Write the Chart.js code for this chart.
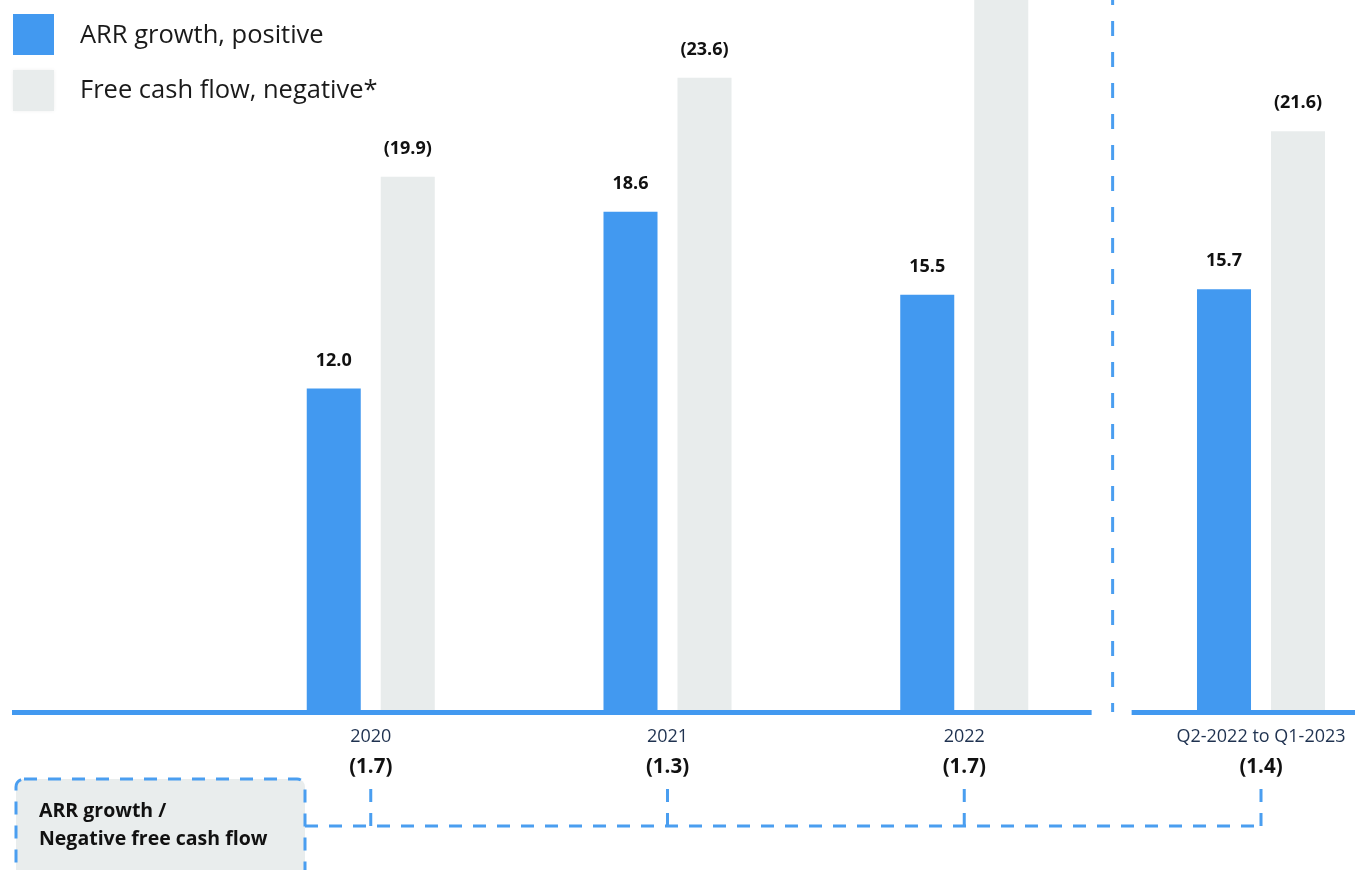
<!DOCTYPE html>
<html>
<head>
<meta charset="utf-8">
<script src="https://cdn.jsdelivr.net/npm/chart.js@4.4.0/dist/chart.umd.min.js"></script>
<style>
  html, body { margin: 0; padding: 0; background: #ffffff; }
  #wrap { width: 1355px; height: 870px; position: relative; }
</style>
</head>
<body>
<div id="wrap"><canvas id="c" width="1355" height="870"></canvas></div>
<script>
// ---- data ----
const categories = ["", "2020", "2021", "2022", "Q2-2022 to Q1-2023"];
const arrGrowth = [null, 12.0, 18.6, 15.5, 15.7];
const freeCashFlowNeg = [null, 19.9, 23.6, 26.9, 21.6];
const ratios = [null, 1.7, 1.3, 1.7, 1.4];
const seriesNames = ["ARR growth, positive", "Free cash flow, negative*"];
const boxLines = ["ARR growth /", "Negative free cash flow"];

const BLUE = '#4299f0';
const GREY = '#e8ecec';
const DASH_BLUE = '#4a9ef0';
const FONT = '"Open Sans", "Noto Sans", sans-serif';

const overlay = {
  id: 'overlay',
  afterDatasetsDraw(chart) {
    const ctx = chart.ctx;
    const x = chart.scales.x;
    const area = chart.chartArea;
    const m0 = chart.getDatasetMeta(0);
    const m1 = chart.getDatasetMeta(1);

    const xa = x.getPixelForValue(3), xb = x.getPixelForValue(4);
    const divX = (xa + xb) / 2;

    ctx.save();
    // baseline
    ctx.strokeStyle = BLUE;
    ctx.lineWidth = 5;
    ctx.beginPath();
    ctx.moveTo(12, area.bottom + 2.5);
    ctx.lineTo(divX - 21, area.bottom + 2.5);
    ctx.moveTo(divX + 19, area.bottom + 2.5);
    ctx.lineTo(1355, area.bottom + 2.5);
    ctx.stroke();

    // vertical divider
    ctx.strokeStyle = DASH_BLUE;
    ctx.lineWidth = 3;
    ctx.setLineDash([15, 16]);
    ctx.lineDashOffset = 10;
    ctx.beginPath();
    ctx.moveTo(divX, 0);
    ctx.lineTo(divX, area.bottom + 2);
    ctx.stroke();
    ctx.setLineDash([]);
    ctx.lineDashOffset = 0;

    // value labels
    ctx.fillStyle = '#111111';
    ctx.font = 'bold 18px ' + FONT;
    ctx.textAlign = 'center';
    ctx.textBaseline = 'middle';
    m0.data.forEach((bar, i) => {
      if (arrGrowth[i] == null) return;
      ctx.fillText(arrGrowth[i].toFixed(1), bar.x, bar.y - 28);
    });
    m1.data.forEach((bar, i) => {
      if (freeCashFlowNeg[i] == null) return;
      ctx.fillText('(' + freeCashFlowNeg[i].toFixed(1) + ')', bar.x, bar.y - 28);
    });

    // legend
    ctx.fillStyle = BLUE;
    ctx.fillRect(13, 14, 41, 41);
    ctx.save();
    ctx.shadowColor = 'rgba(0,0,0,0.06)';
    ctx.shadowBlur = 4;
    ctx.fillStyle = GREY;
    ctx.fillRect(13, 70, 41, 41);
    ctx.restore();
    ctx.fillStyle = '#1a1a1a';
    ctx.font = '25.5px ' + FONT;
    ctx.textAlign = 'left';
    ctx.fillText(seriesNames[0], 80, 36);
    ctx.fillText(seriesNames[1], 80, 91);

    // ratio labels
    ctx.fillStyle = '#111111';
    ctx.font = 'bold 20.5px ' + FONT;
    ctx.textAlign = 'center';
    let lastX = 0;
    ratios.forEach((r, i) => {
      if (r == null) return;
      const px = x.getPixelForValue(i);
      ctx.fillText('(' + r.toFixed(1) + ')', px, 767);
      lastX = px;
    });

    // box
    const bx = 16, by = 779, bw = 289, bh = 110, rad = 8;
    ctx.fillStyle = '#e9eded';
    ctx.beginPath();
    ctx.roundRect(bx, by, bw, bh, rad);
    ctx.fill();
    ctx.strokeStyle = DASH_BLUE;
    ctx.lineWidth = 3;
    ctx.setLineDash([13, 11]);
    ctx.stroke();

    // bracket
    ctx.beginPath();
    ctx.moveTo(bx + bw, 826);
    ctx.lineTo(lastX, 826);
    ctx.stroke();
    ratios.forEach((r, i) => {
      if (r == null) return;
      const px = x.getPixelForValue(i);
      ctx.beginPath();
      ctx.moveTo(px, 826);
      ctx.lineTo(px, 788);
      ctx.stroke();
    });
    ctx.setLineDash([]);

    // box text
    ctx.fillStyle = '#111111';
    ctx.font = 'bold 19.5px ' + FONT;
    ctx.textAlign = 'left';
    ctx.fillText(boxLines[0], 39, 811);
    ctx.fillText(boxLines[1], 39, 839);
    ctx.restore();
  }
};

new Chart(document.getElementById('c'), {
  type: 'bar',
  data: {
    labels: categories,
    datasets: [
      { label: seriesNames[0], data: arrGrowth, backgroundColor: BLUE, clip: false },
      { label: seriesNames[1], data: freeCashFlowNeg, backgroundColor: GREY, clip: false }
    ]
  },
  options: {
    responsive: false,
    animation: false,
    devicePixelRatio: 1,
    categoryPercentage: 0.4987,
    barPercentage: 0.73,
    layout: { padding: { left: 74, right: 94, top: 0, bottom: 0 } },
    plugins: { legend: { display: false }, tooltip: { enabled: false }, title: { display: false } },
    scales: {
      x: {
        offset: false,
        grid: { display: false },
        border: { display: false },
        ticks: { color: '#1f3250', font: { family: FONT, size: 18 }, padding: 8, maxRotation: 0, autoSkip: false },
        afterFit(s) { s.height = 160; }
      },
      y: {
        display: false,
        min: 0,
        max: 26.5
      }
    }
  },
  plugins: [overlay]
});
</script>
</body>
</html>
